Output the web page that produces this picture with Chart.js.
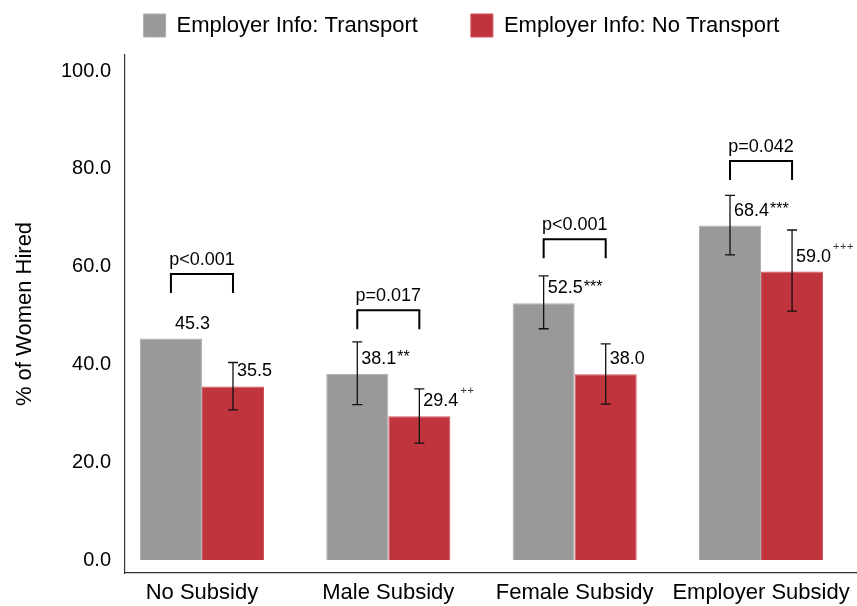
<!DOCTYPE html>
<html><head><meta charset="utf-8">
<script src="https://cdn.jsdelivr.net/npm/chart.js@4.4.1/dist/chart.umd.min.js"></script>
<style>html,body{margin:0;padding:0;background:#fff;}#wrap{width:857px;height:606px;}</style>
</head><body><div id="wrap"><canvas id="c" width="857" height="606"></canvas></div>
<script>
const categories = ['No Subsidy', 'Male Subsidy', 'Female Subsidy', 'Employer Subsidy'];
const seriesNames = ['Employer Info: Transport', 'Employer Info: No Transport'];
const transport = [45.3, 38.1, 52.5, 68.4];
const noTransport = [35.5, 29.4, 38.0, 59.0];
const transportLow = [null, 31.8, 47.3, 62.4];
const transportHigh = [null, 44.6, 58.1, 74.6];
const noTransportLow = [30.7, 23.9, 31.9, 50.9];
const noTransportHigh = [40.4, 35.0, 44.2, 67.5];
const transportMarks = ['', '**', '***', '***'];
const noTransportMarks = ['', '++', '', '+++'];
const pValues = ['p<0.001', 'p=0.017', 'p<0.001', 'p=0.042'];
const bracketLevels = [58.5, 51.1, 65.6, 81.6];
const yTicks = [0, 20, 40, 60, 80, 100];

const FONT = '"Liberation Sans", Arial, Helvetica, sans-serif';
const LEG_DX = 33, LEG_DY = -39;

const annot = {
  id: 'annot',
  afterLayout(chart) {
    const lg = chart.legend;
    if (lg) { lg.left += LEG_DX; lg.right += LEG_DX; lg.top += LEG_DY; }
  },
  afterDatasetsDraw(chart) {
    const ctx = chart.ctx, ys = chart.scales.y;
    const vals = [transport, noTransport];
    const lows = [transportLow, noTransportLow];
    const highs = [transportHigh, noTransportHigh];
    const marks = [transportMarks, noTransportMarks];
    ctx.save();
    for (let d = 0; d < 2; d++) {
      const meta = chart.getDatasetMeta(d);
      meta.data.forEach((bar, i) => {
        const x = bar.x;
        if (lows[d][i] != null) {
          const yl = ys.getPixelForValue(lows[d][i]);
          const yh = ys.getPixelForValue(highs[d][i]);
          ctx.beginPath();
          ctx.moveTo(x, yh); ctx.lineTo(x, yl);
          ctx.moveTo(x - 5, yh); ctx.lineTo(x + 5, yh);
          ctx.moveTo(x - 5, yl); ctx.lineTo(x + 5, yl);
          ctx.lineWidth = 1.3; ctx.strokeStyle = '#111';
          ctx.stroke();
        }
        const ty = ys.getPixelForValue(vals[d][i]) - 15;
        const txt = vals[d][i].toFixed(1);
        ctx.font = '18px ' + FONT;
        ctx.textAlign = 'left'; ctx.textBaseline = 'middle'; ctx.fillStyle = '#000';
        ctx.fillText(txt, x + 4, ty);
        const w = ctx.measureText(txt).width;
        const m = marks[d][i];
        if (m) {
          if (m[0] === '*') {
            ctx.font = '16px ' + FONT;
            ctx.fillText(m, x + 5 + w, ty - 1);
          } else {
            ctx.font = '11px ' + FONT;
            ctx.fillStyle = '#333';
            for (let k = 0; k < m.length; k++) ctx.fillText(m[k], x + 6 + w + k * 7, ty - 10);
          }
        }
      });
    }
    const m0 = chart.getDatasetMeta(0), m1 = chart.getDatasetMeta(1);
    for (let i = 0; i < categories.length; i++) {
      const x0 = m0.data[i].x, x1 = m1.data[i].x;
      const yb = ys.getPixelForValue(bracketLevels[i]);
      ctx.beginPath();
      ctx.moveTo(x0, yb + 19); ctx.lineTo(x0, yb); ctx.lineTo(x1, yb); ctx.lineTo(x1, yb + 19);
      ctx.lineWidth = 2; ctx.strokeStyle = '#000'; ctx.lineJoin = 'miter';
      ctx.stroke();
      ctx.font = '18px ' + FONT; ctx.fillStyle = '#000';
      ctx.textAlign = 'center'; ctx.textBaseline = 'middle';
      ctx.fillText(pValues[i], (x0 + x1) / 2, yb - 14);
    }
    ctx.restore();
  }
};

new Chart(document.getElementById('c'), {
  type: 'bar',
  data: {
    datasets: [
      { label: seriesNames[0], data: transport.map((v, i) => ({ x: i, y: v })),
        backgroundColor: '#999999', borderColor: '#aeaeae', borderWidth: 1 },
      { label: seriesNames[1], data: noTransport.map((v, i) => ({ x: i, y: v })),
        backgroundColor: '#C0343E', borderColor: '#cc535b', borderWidth: 1 }
    ]
  },
  options: {
    responsive: false, animation: false,
    layout: { padding: 0 },
    datasets: { bar: { categoryPercentage: 0.666, barPercentage: 1.0 } },
    scales: {
      x: {
        type: 'linear', min: -0.413, max: 3.515, offset: false,
        grid: { display: false, drawTicks: false, offset: false },
        border: { display: true, color: '#333', width: 1.2 },
        afterBuildTicks: s => { s.ticks = categories.map((c, i) => ({ value: i })); },
        afterFit: s => { s.height = 33; },
        ticks: { padding: 7, maxRotation: 0, autoSkip: false, color: '#000',
          font: { family: FONT, size: 22 },
          callback: v => categories[v] }
      },
      y: {
        min: -2.66, max: 103.3,
        grid: { display: false, drawTicks: false },
        border: { display: true, color: '#333', width: 1.2 },
        afterBuildTicks: s => { s.ticks = yTicks.map(v => ({ value: v })); },
        afterFit: s => { s.width = 125; },
        title: { display: true, text: '% of Women Hired', color: '#000',
          font: { family: FONT, size: 22 }, padding: { top: 12, bottom: 0 } },
        ticks: { padding: 14, color: '#000', font: { family: FONT, size: 20 },
          callback: v => Number(v).toFixed(1) }
      }
    },
    plugins: {
      legend: {
        display: true, position: 'top', align: 'center', maxHeight: 55,
        labels: { boxWidth: 22, boxHeight: 23, padding: 53, color: '#000',
          font: { family: FONT, size: 22 } }
      },
      tooltip: { enabled: false }
    }
  },
  plugins: [annot]
});
</script></body></html>
